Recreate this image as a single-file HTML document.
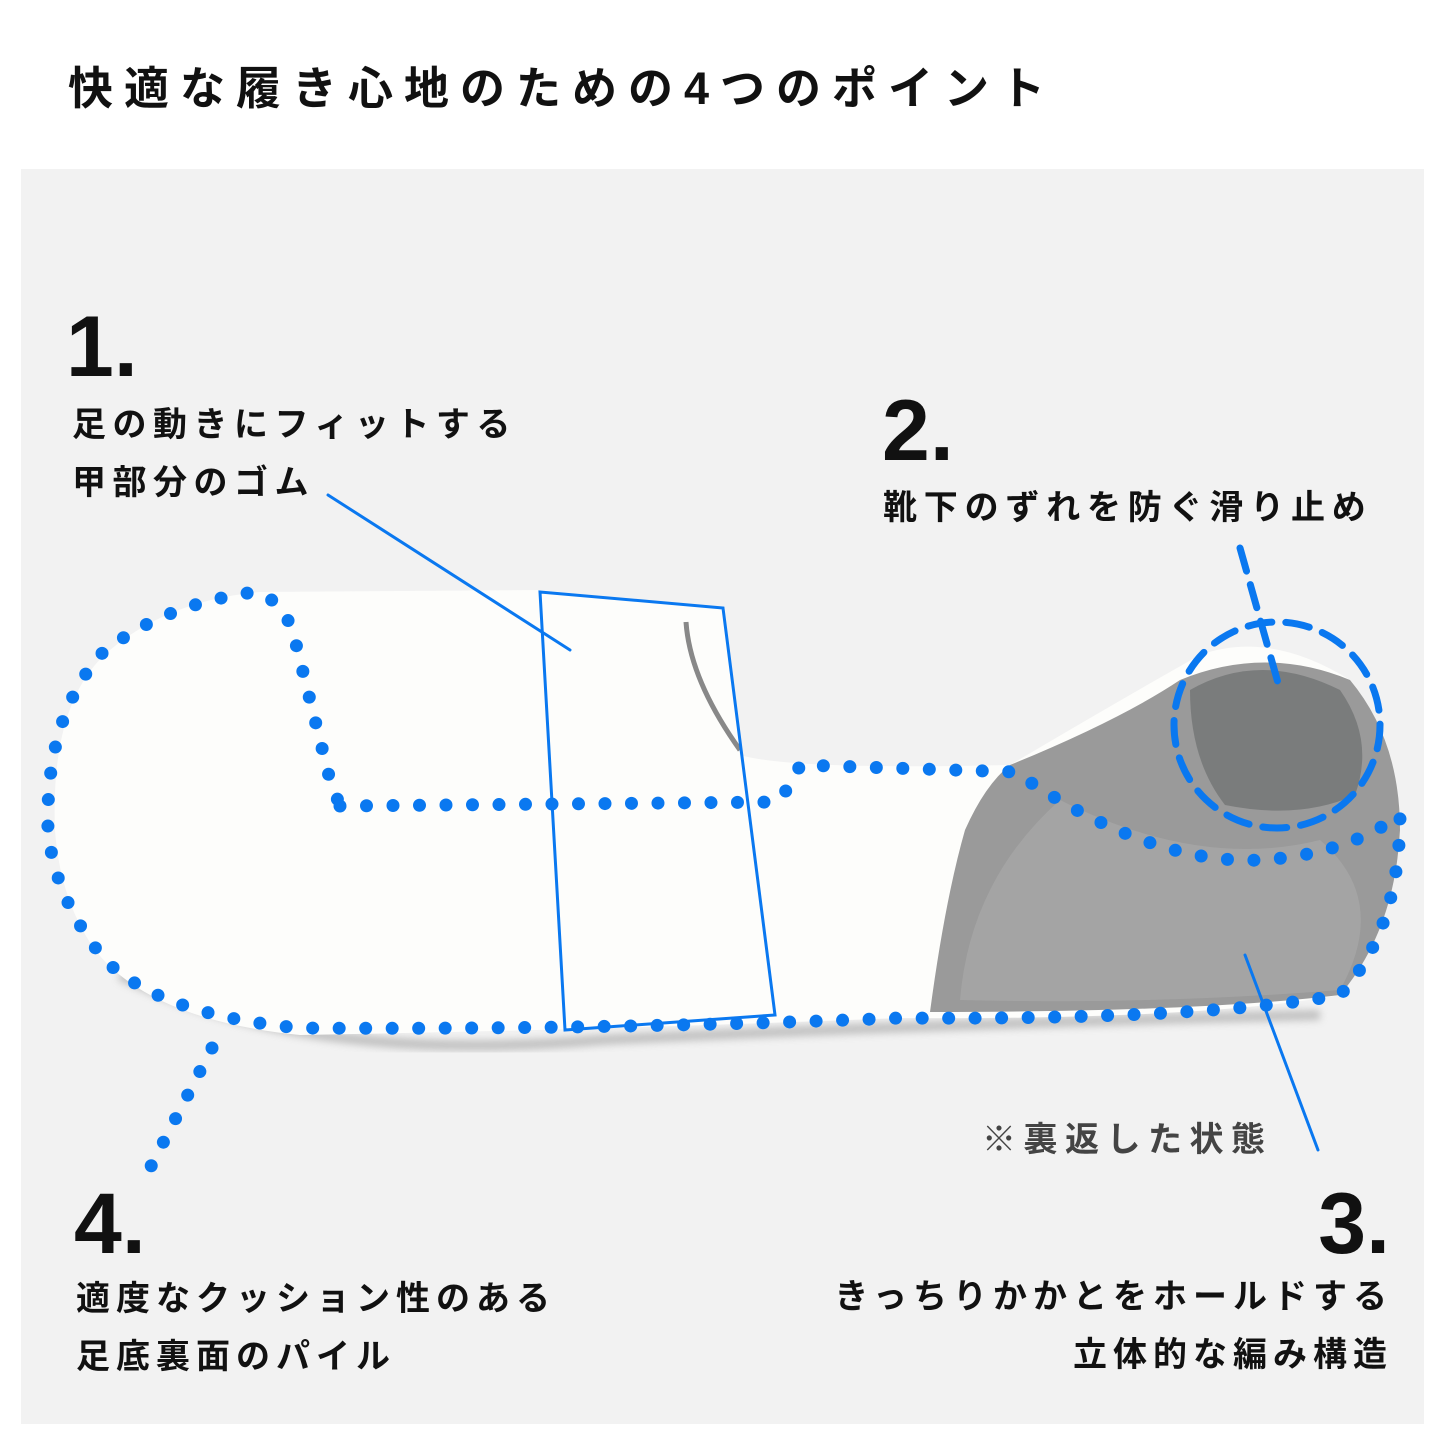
<!DOCTYPE html>
<html><head><meta charset="utf-8"><style>
html,body{margin:0;padding:0;background:#fff;}
body{width:1445px;height:1445px;position:relative;overflow:hidden;font-family:"Liberation Sans","Noto Sans CJK JP",sans-serif;color:#111;}
.t{position:absolute;font-weight:bold;white-space:nowrap;}
</style></head><body>
<div class="t" style="left:68px;top:52px;font-size:45px;letter-spacing:11px;">快適な履き心地のための4つのポイント</div>
<div style="position:absolute;left:21px;top:169px;width:1403px;height:1255px;background:#f2f2f2;"></div>
<svg style="position:absolute;left:0;top:0" width="1445" height="1445">
<defs><filter id="b" x="-10%" y="-10%" width="120%" height="120%"><feGaussianBlur stdDeviation="4"/></filter></defs>
<path d="M120,975 Q300,1065 600,1040 Q900,1025 1320,1015" stroke="#aaa" stroke-width="10" fill="none" filter="url(#b)" opacity="0.7"/>
<path d="M55,830 Q50,700 110,650 Q170,600 260,592 L540,590 L725,608 L740,755 Q790,770 1010,765 Q1120,700 1200,655 Q1270,630 1350,680 Q1400,740 1400,830 Q1395,930 1340,995 Q1200,1020 900,1018 Q600,1030 300,1035 Q150,1020 95,950 Q60,900 55,830Z" fill="#fdfdfb"/>
<path d="M1010,765 Q1120,720 1180,680 Q1265,645 1350,680 Q1400,740 1400,830 Q1395,930 1340,995 Q1200,1012 930,1012 Q945,900 965,830 Q985,785 1010,765Z" fill="#9a9a9a"/>
<path d="M1190,690 Q1260,650 1340,690 Q1375,740 1355,795 Q1300,820 1225,805 Q1190,760 1190,690Z" fill="#7a7c7c"/>
<path d="M1060,800 Q1200,870 1320,840 Q1390,900 1340,990 Q1150,1005 960,1000 Q970,880 1060,800Z" fill="#a4a4a4"/>
<path d="M686,622 Q690,680 740,750" stroke="#888" stroke-width="5" fill="none"/>
<g fill="none" stroke="#0a78f0" stroke-linecap="round">
<path d="M340,806 L775,802 Q790,790 800,765 L1015,772 Q1150,865 1260,860 Q1345,855 1400,815 Q1400,930 1340,995 Q1200,1020 900,1018 Q600,1030 300,1028 Q160,1015 105,960 Q55,900 48,830 Q45,720 100,655 Q160,605 255,592 Q285,600 295,640 L330,780 Z" stroke-width="13" stroke-dasharray="0 26.5"/>
<path d="M212,1048 L148,1172" stroke-width="13" stroke-dasharray="0 26.5"/>
<path d="M540,592 L723,608 L775,1015 L565,1030 Z" stroke-width="3"/>
<path d="M328,495 L570,650" stroke-width="3"/>
<path d="M1245,955 L1318,1150" stroke-width="3"/>
<circle cx="1277" cy="725" r="103" stroke-width="7" stroke-dasharray="24 14"/>
<path d="M1240,548 L1280,690" stroke-width="7" stroke-dasharray="24 14"/>
</g>
</svg>
<div class="t" style="left:66px;top:298px;font-size:86px;">1.</div>
<div class="t" style="left:72px;top:396px;font-size:34px;letter-spacing:6.5px;line-height:58px;">足の動きにフィットする<br>甲部分のゴム</div>
<div class="t" style="left:882px;top:382px;font-size:86px;">2.</div>
<div class="t" style="left:883px;top:480px;font-size:34px;letter-spacing:6.8px;">靴下のずれを防ぐ滑り止め</div>
<div class="t" style="left:982px;top:1112px;font-size:34px;letter-spacing:7.5px;color:#444;">※裏返した状態</div>
<div class="t" style="right:55px;top:1175px;font-size:86px;">3.</div>
<div class="t" style="right:52px;top:1268px;font-size:34px;letter-spacing:6px;line-height:58px;text-align:right;">きっちりかかとをホールドする<br>立体的な編み構造</div>
<div class="t" style="left:74px;top:1175px;font-size:86px;">4.</div>
<div class="t" style="left:76px;top:1270px;font-size:34px;letter-spacing:6px;line-height:58px;">適度なクッション性のある<br>足底裏面のパイル</div>
</body></html>
